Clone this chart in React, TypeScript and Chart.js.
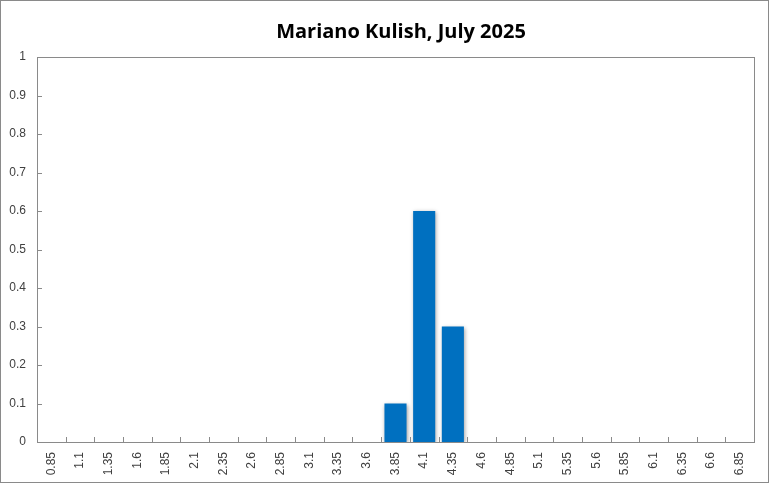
import React, { useEffect, useRef } from "react";
import { Chart, registerables } from "chart.js";

Chart.register(...registerables);

const title = "Mariano Kulish, July 2025";
const categories = ["0.85","1.1","1.35","1.6","1.85","2.1","2.35","2.6","2.85","3.1","3.35","3.6","3.85","4.1","4.35","4.6","4.85","5.1","5.35","5.6","5.85","6.1","6.35","6.6","6.85"];
const values = [0,0,0,0,0,0,0,0,0,0,0,0,0.1,0.6,0.3,0,0,0,0,0,0,0,0,0,0];
const yMin = 0;
const yMax = 1;
const yStep = 0.1;

const W = 769;
const H = 483;

const framePlugin = {
  id: "frame",
  beforeDatasetsDraw(chart: any) {
    const { ctx } = chart;
    ctx.save();
    ctx.shadowColor = "rgba(0,0,0,0.35)";
    ctx.shadowBlur = 4;
    ctx.shadowOffsetX = 1;
    ctx.shadowOffsetY = 1;
  },
  afterDatasetsDraw(chart: any) {
    chart.ctx.restore();
  },
  afterDraw(chart: any) {
    const { ctx, chartArea, scales } = chart;
    const { left, right, top, bottom } = chartArea;
    ctx.save();
    ctx.strokeStyle = "#8a8a8a";
    ctx.lineWidth = 1;
    ctx.strokeRect(Math.round(left) + 0.5, Math.round(top) + 0.5, Math.round(right - left), Math.round(bottom - top));
    const ys = scales.y;
    ys.ticks.forEach((t: any) => {
      const y = Math.round(ys.getPixelForValue(t.value)) + 0.5;
      ctx.beginPath();
      ctx.moveTo(left, y);
      ctx.lineTo(left + 5, y);
      ctx.stroke();
    });
    const xs = scales.x;
    for (let i = 1; i < categories.length; i++) {
      const x = Math.round((xs.getPixelForValue(i - 1) + xs.getPixelForValue(i)) / 2) + 0.5;
      ctx.beginPath();
      ctx.moveTo(x, bottom);
      ctx.lineTo(x, bottom - 5);
      ctx.stroke();
    }
    ctx.strokeRect(0.5, 0.5, W - 1, H - 1);
    ctx.fillStyle = "#000";
    ctx.font = "bold 20px 'Open Sans'";
    ctx.textAlign = "center";
    ctx.textBaseline = "middle";
    ctx.fillText(title, 401, 32);
    ctx.restore();
  },
};

export default function App() {
  const ref = useRef<HTMLCanvasElement>(null);
  useEffect(() => {
    if (!ref.current) return;
    const chart = new Chart(ref.current, {
      type: "bar",
      data: {
        labels: categories,
        datasets: [
          {
            data: values,
            backgroundColor: "#0070C0",
            borderWidth: 0,
            barPercentage: 0.77,
            categoryPercentage: 1,
          },
        ],
      },
      options: {
        responsive: false,
        animation: false,
        devicePixelRatio: 1,
        layout: { padding: { left: 0, right: 15, top: 57, bottom: 0 } },
        plugins: {
          legend: { display: false },
          title: { display: false },
          tooltip: { enabled: false },
        },
        scales: {
          x: {
            grid: { display: false, drawTicks: false },
            border: { display: false },
            ticks: {
              minRotation: 90,
              maxRotation: 90,
              autoSkip: false,
              padding: 10,
              color: "#404040",
              font: { family: "'Liberation Sans'", size: 12 },
            },
            afterFit(scale: any) {
              scale.height = 41;
            },
          },
          y: {
            min: yMin,
            max: yMax,
            grid: { display: false, drawTicks: false },
            border: { display: false },
            ticks: {
              stepSize: yStep,
              padding: 11,
              color: "#404040",
              font: { family: "'Liberation Sans'", size: 12 },
              callback: (v: any) => String(Math.round(Number(v) * 10) / 10),
            },
            afterFit(scale: any) {
              scale.width = 37;
            },
          },
        },
      },
      plugins: [framePlugin],
    });
    return () => chart.destroy();
  }, []);
  return (
    <div style={{ position: "absolute", left: 0, top: 0, width: W, height: H, background: "#fff" }}>
      <canvas ref={ref} width={W} height={H} style={{ display: "block" }} />
    </div>
  );
}
